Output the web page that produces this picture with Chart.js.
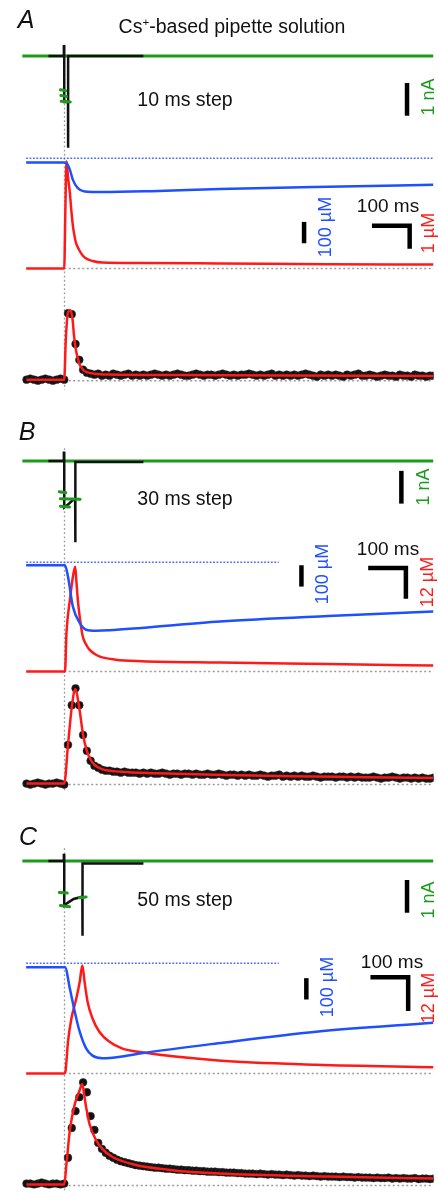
<!DOCTYPE html>
<html><head><meta charset="utf-8">
<script src="https://cdn.jsdelivr.net/npm/chart.js@4"></script>
<style>
html,body{margin:0;padding:0;background:#fff;}
#wrap{position:relative;width:438px;height:1193px;overflow:hidden;background:#fff;}
#c{position:absolute;left:0;top:0;}
.t{position:absolute;font-family:"Liberation Sans",Arial,Helvetica,sans-serif;line-height:1;white-space:nowrap;transform:translate(-50%,-50%);color:#111;}
.r{transform:translate(-50%,-50%) rotate(-90deg);}
.sup{font-size:0.6em;position:relative;top:-0.6em;}
.g{color:#1c9a1c}.b{color:#1f4fff}.rd{color:#ff1a1a}
</style></head><body>
<div id="wrap">
<canvas id="c" width="438" height="1193"></canvas>
<div class="t" style="left:26px;top:19px;font-size:25px;font-style:italic">A</div>
<div class="t" style="left:232px;top:27px;font-size:19.5px">Cs<span class="sup">+</span>-based pipette solution</div>
<div class="t" style="left:185px;top:100px;font-size:19.5px">10 ms step</div>
<div class="t r g" style="left:428px;top:97px;font-size:18px">1 nA</div>
<div class="t r b" style="left:325px;top:227px;font-size:18px">100 µM</div>
<div class="t" style="left:388px;top:205px;font-size:19px">100 ms</div>
<div class="t r rd" style="left:428px;top:233px;font-size:18px">1 µM</div>

<div class="t" style="left:27px;top:431px;font-size:25px;font-style:italic">B</div>
<div class="t" style="left:185px;top:499px;font-size:19.5px">30 ms step</div>
<div class="t r g" style="left:423px;top:487px;font-size:18px">1 nA</div>
<div class="t r b" style="left:322px;top:574px;font-size:18px">100 µM</div>
<div class="t" style="left:388px;top:548px;font-size:19px">100 ms</div>
<div class="t r rd" style="left:427px;top:582px;font-size:18px">12 µM</div>

<div class="t" style="left:28px;top:836px;font-size:25px;font-style:italic">C</div>
<div class="t" style="left:185px;top:900px;font-size:19.5px">50 ms step</div>
<div class="t r g" style="left:428px;top:900px;font-size:18px">1 nA</div>
<div class="t r b" style="left:327px;top:987px;font-size:18px">100 µM</div>
<div class="t" style="left:392px;top:961px;font-size:19px">100 ms</div>
<div class="t r rd" style="left:428px;top:998px;font-size:18px">12 µM</div>
</div>
<script>
// ================= DATA (time in ms, current in nA, concentrations in µM, fluorescence in ΔF/F0) =================
const panels = ['A', 'B', 'C'];
const stepDurations = [10, 30, 50];

// Green current baseline (recorded holding current)
const greenBaseTime = [-111, 979];
const greenBaseVal = [0, 0];

// Green current samples during the step (short strokes, null = gap)
const greenStepTimeA = [-10, 4, null, -9, 6, null, -8, 16];
const greenStepA = [-1.03, -1.06, null, -1.2, -1.23, null, -1.38, -1.4];
const greenStepTimeB = [-13, 4, null, -10, 42, null, -10, 14];
const greenStepB = [-0.94, -0.97, null, -1.15, -1.17, null, -1.38, -1.4];
const greenStepTimeC = [-13, 8, null, -10, 14, null, 40, 58];
const greenStepC = [-0.96, -0.98, null, -1.36, -1.4, null, -1.12, -1.1];

// Black current traces
const curTimeA = [-42, -1, -1, 0, 0, 10, 10, 10.6, 210];
const curA = [0, 0, 0.3, 0.3, -1.4, -1.4, -2.8, 0, 0];
const curTimeB = [-42, -1, -1, 0, 0, 10, 20, 29, 29, 30, 210];
const curB = [0, 0, 0.25, 0.25, -1.42, -1.33, -1.22, -1.15, -2.48, -0.03, -0.03];
const curTimeC = [-42, -1, -1, 0, 0, 10, 25, 48, 48, 49, 210];
const curC = [0, 0, 0.18, 0.18, -1.36, -1.27, -1.16, -1.09, -2.28, -0.08, -0.08];

// Blue concentration traces (µM); dotted reference level
const blueRefLevel = 1000;
const blueRefSpan = [[-101, 979], [-101, 569], [-101, 569]];
const blueTimeA = [-101, 0, 6, 15, 23, 36, 54, 101, 230, 413, 700, 979];
const blueA = [981, 981, 978, 946, 899, 860, 845, 842, 846, 856, 867, 876];
const blueTimeB = [-101, 2, 10, 23, 41, 58, 84, 120, 205, 413, 700, 979];
const blueB = [986, 986, 932, 792, 716, 684, 679, 681, 692, 722, 748, 769];
const blueTimeC = [-101, 2, 15, 28, 41, 58, 75, 101, 153, 205, 408, 668, 979];
const blueC = [981, 981, 880, 772, 679, 601, 567, 555, 563, 578, 625, 679, 721];

// Red concentration traces (µM)
const redTimeA = [-101, 0, 3, 6, 10, 15, 19, 23, 27, 31, 40, 49, 60, 75, 101, 200, 413, 700, 979];
const redA = [0, 0, 2.6, 4.7, 4.0, 3.3, 2.5, 1.87, 1.45, 1.13, 0.8, 0.57, 0.42, 0.33, 0.26, 0.24, 0.22, 0.19, 0.17];
const redTimeB = [-101, 0, 2, 6, 15, 23, 29, 32, 36, 41, 49, 58, 67, 80, 93, 136, 205, 413, 700, 979];
const redB = [0, 0, 0, 15.1, 27.9, 36.9, 40.8, 35.6, 28, 21.4, 13.7, 10.5, 8.5, 6.9, 5.9, 4.6, 4.0, 3.5, 2.9, 2.3];
const redTimeC = [-101, 0, 3, 10, 19, 32, 41, 48, 54, 62, 75, 93, 119, 153, 205, 408, 668, 979];
const redC = [0, 0, 0.5, 11.3, 19.5, 26.6, 32.5, 38.4, 32.5, 25.4, 19.5, 14.8, 11.3, 8.9, 7.5, 4.6, 3.1, 2.2];

// Fluorescence samples (black dots)
const fluoTime = [-100,-90,-80,-70,-60,-50,-40,-30,-20,-10,0,10,20,30,40,50,60,70,80,90,100,110,120,130,140,150,160,170,180,190,200,210,220,230,240,250,260,270,280,290,300,310,320,330,340,350,360,370,380,390,400,410,420,430,440,450,460,470,480,490,500,510,520,530,540,550,560,570,580,590,600,610,620,630,640,650,660,670,680,690,700,710,720,730,740,750,760,770,780,790,800,810,820,830,840,850,860,870,880,890,900,910,920,930,940,950,960,970,980];
const fluoA = [0.01,0.02,0.01,0.00,0.01,0.02,0.01,0.00,0.01,0.02,0.01,
  0.68,0.67,0.37,0.21,0.11,0.08,0.07,0.06,0.07,0.05,
  0.06,0.05,0.07,0.06,0.05,0.06,0.07,0.05,0.06,0.05,
  0.06,0.05,0.06,0.07,0.06,0.05,0.06,0.05,0.06,0.07,
  0.06,0.05,0.05,0.06,0.07,0.06,0.05,0.06,0.06,0.05,
  0.06,0.07,0.06,0.05,0.06,0.05,0.06,0.06,0.07,0.06,
  0.05,0.06,0.05,0.06,0.07,0.05,0.06,0.05,0.06,0.05,
  0.06,0.05,0.06,0.07,0.06,0.05,0.04,0.06,0.05,0.06,
  0.05,0.06,0.05,0.04,0.06,0.05,0.06,0.07,0.05,0.05,
  0.06,0.05,0.04,0.05,0.06,0.05,0.05,0.04,0.06,0.05,
  0.05,0.04,0.06,0.05,0.05,0.04,0.05,0.05];
const fluoB = [0.01,0.00,0.01,0.02,0.01,0.00,0.01,0.01,0.02,0.01,0.00,
  0.40,0.80,0.97,0.80,0.50,0.34,0.24,0.19,0.17,0.15,
  0.14,0.14,0.13,0.13,0.12,0.13,0.12,0.12,0.12,0.11,
  0.12,0.11,0.12,0.11,0.11,0.12,0.11,0.10,0.11,0.11,
  0.10,0.11,0.11,0.10,0.11,0.10,0.10,0.11,0.10,0.10,
  0.11,0.10,0.09,0.10,0.10,0.09,0.10,0.09,0.10,0.09,
  0.09,0.10,0.09,0.08,0.09,0.09,0.10,0.08,0.09,0.08,
  0.09,0.08,0.09,0.08,0.08,0.09,0.08,0.07,0.08,0.08,
  0.08,0.07,0.08,0.08,0.07,0.08,0.07,0.08,0.07,0.07,
  0.07,0.08,0.07,0.06,0.07,0.07,0.08,0.07,0.06,0.07,
  0.07,0.06,0.07,0.06,0.07,0.06,0.06,0.07];
const fluoC = [0.02,0.02,0.01,0.02,0.03,0.02,0.01,0.02,0.02,0.01,0.02,
  0.28,0.58,0.75,0.89,1.04,0.94,0.70,0.56,0.43,0.37,
  0.33,0.30,0.28,0.26,0.245,0.235,0.225,0.215,0.205,0.20,
  0.195,0.19,0.185,0.18,0.18,0.175,0.17,0.17,0.165,0.16,
  0.16,0.155,0.155,0.15,0.15,0.145,0.145,0.14,0.14,0.14,
  0.135,0.135,0.13,0.13,0.13,0.125,0.125,0.12,0.12,0.12,
  0.115,0.12,0.115,0.11,0.115,0.11,0.11,0.105,0.11,0.105,
  0.10,0.105,0.10,0.10,0.095,0.10,0.095,0.09,0.095,0.09,
  0.09,0.09,0.085,0.09,0.085,0.085,0.08,0.085,0.08,0.08,
  0.08,0.075,0.08,0.075,0.075,0.08,0.07,0.075,0.07,0.075,
  0.07,0.07,0.075,0.065,0.07,0.07,0.065,0.07];

// Model fits to fluorescence (red lines)
const fitTimeA = [-100, 0, 4, 10, 16, 22, 26, 30, 35, 40, 50, 60, 80, 120, 300, 600, 980];
const fitA = [0.01, 0.01, 0.40, 0.69, 0.71, 0.62, 0.45, 0.33, 0.24, 0.17, 0.11, 0.085, 0.07, 0.062, 0.057, 0.052, 0.047];
const fitTimeB = [-100, 0, 10, 20, 29, 40, 50, 60, 70, 80, 100, 150, 250, 400, 600, 800, 980];
const fitB = [0.01, 0.01, 0.40, 0.78, 0.96, 0.77, 0.50, 0.34, 0.25, 0.20, 0.155, 0.13, 0.115, 0.10, 0.085, 0.075, 0.065];
const fitTimeC = [-100, 0, 6, 15, 28, 41, 47, 58, 67, 84, 101, 127, 187, 275, 413, 700, 980];
const fitC = [0.01, 0.01, 0.22, 0.56, 0.82, 0.96, 1.02, 0.79, 0.62, 0.46, 0.37, 0.29, 0.21, 0.16, 0.12, 0.09, 0.07];

// Scale bar sizes
const scaleBarCurrent = 1;      // nA
const scaleBarBlue = 100;       // µM
const scaleBarTime = 100;       // ms
const scaleBarRed = [1, 12, 12]; // µM

// ================= LAYOUT =================
const H = 1193;
const X_MIN = -158.4, X_MAX = 979.2;
const LAYOUT = {
  A: {cur: {px: 52, ppu: 33}, blue: {px: 155, ppu: 0.215}, red: {px: 266, ppu: 23}, flu: {px: 379, ppu: 100},
      onset: {top: 0.35, bottom: -0.09},
      bars: {nA: {t: 909, from: -0.82}, uM: {t: 636, from: 702}, L: {t1: 916, top: 1.87}}},
  B: {cur: {px: 460, ppu: 33}, blue: {px: 562, ppu: 0.215}, red: {px: 672, ppu: 31 / 12}, flu: {px: 786, ppu: 100},
      onset: {top: 0.39, bottom: -0.06},
      bars: {nA: {t: 894, from: -0.30}, uM: {t: 629, from: 986}, L: {t1: 906, top: 40.3}}},
  C: {cur: {px: 863, ppu: 33}, blue: {px: 966, ppu: 0.215}, red: {px: 1077, ppu: 34 / 12}, flu: {px: 1190, ppu: 100},
      onset: {top: 0.39, bottom: -0.05},
      bars: {nA: {t: 909, from: -0.58}, uM: {t: 642, from: 930}, L: {t1: 912, top: 34.2}}}
};
const COL = {green: '#1c9a1c', blue: '#1f4fff', blueDot: '#4a6dff', red: '#ff1a1a', black: '#111111', grey: '#9a9a9a'};

function rng(base, o) {
  const max = base + o.px / o.ppu;
  return {type: 'linear', axis: 'y', position: 'left', display: false, min: max - H / o.ppu, max: max};
}
function xy(ts, vs) { return ts.map((t, i) => ({x: t === null ? NaN : t, y: vs[i]})); }
function ln(data, axis, color, width, order, extra) {
  return Object.assign({data: data, xAxisID: 'x', yAxisID: axis, borderColor: color, backgroundColor: color,
    borderWidth: width, pointRadius: 0, fill: false, tension: 0, spanGaps: false, order: order}, extra || {});
}

const SERIES = {
  A: {gs: [greenStepTimeA, greenStepA], cur: [curTimeA, curA], blue: [blueTimeA, blueA], red: [redTimeA, redA], flu: fluoA, fit: [fitTimeA, fitA]},
  B: {gs: [greenStepTimeB, greenStepB], cur: [curTimeB, curB], blue: [blueTimeB, blueB], red: [redTimeB, redB], flu: fluoB, fit: [fitTimeB, fitB]},
  C: {gs: [greenStepTimeC, greenStepC], cur: [curTimeC, curC], blue: [blueTimeC, blueC], red: [redTimeC, redC], flu: fluoC, fit: [fitTimeC, fitC]}
};

const scales = {x: {type: 'linear', axis: 'x', position: 'bottom', display: false, min: X_MIN, max: X_MAX}};
const datasets = [];
panels.forEach((p, i) => {
  const L = LAYOUT[p], S = SERIES[p];
  const ax = {cur: 'yCur' + p, blue: 'yBlue' + p, red: 'yCa' + p, flu: 'yFlu' + p};
  scales[ax.cur] = rng(0, L.cur);
  scales[ax.blue] = rng(blueRefLevel, L.blue);
  scales[ax.red] = rng(0, L.red);
  scales[ax.flu] = rng(0, L.flu);
  const dotted = {borderDash: [2, 2.5]};
  datasets.push(ln(xy([0, X_MAX], [0, 0]), ax.red, COL.grey, 1.5, 30, dotted));
  datasets.push(ln(xy([0, X_MAX], [0, 0]), ax.flu, COL.grey, 1.5, 30, dotted));
  datasets.push(ln(xy(blueRefSpan[i], [blueRefLevel, blueRefLevel]), ax.blue, COL.blueDot, 1.5, 29, {borderDash: [1.8, 1.6]}));
  datasets.push(ln(xy(greenBaseTime, greenBaseVal), ax.cur, COL.green, 3, 20));
  datasets.push(ln(xy(S.cur[0], S.cur[1]), ax.cur, COL.black, 2.5, 18));
  datasets.push(ln(xy(S.gs[0], S.gs[1]), ax.cur, COL.green, 3, 17, {borderCapStyle: 'round'}));
  datasets.push(ln(xy(S.red[0], S.red[1]), ax.red, COL.red, 2.5, 12, {cubicInterpolationMode: 'monotone'}));
  datasets.push(ln(xy(S.blue[0], S.blue[1]), ax.blue, COL.blue, 2.5, 11, {cubicInterpolationMode: 'monotone'}));
  datasets.push(ln(xy(fluoTime, S.flu), ax.flu, COL.black, 0, 8,
    {showLine: false, pointRadius: 3.9, pointBackgroundColor: '#111', pointBorderColor: '#333', pointBorderWidth: 0.5}));
  datasets.push(ln(xy(S.fit[0], S.fit[1]), ax.flu, COL.red, 2.5, 6, {cubicInterpolationMode: 'monotone'}));
});

const annotations = {
  id: 'annotations',
  beforeDatasetsDraw(chart) {
    const ctx = chart.ctx, xs = chart.scales.x;
    ctx.save();
    ctx.strokeStyle = COL.grey; ctx.lineWidth = 1.3; ctx.setLineDash([1.8, 2.4]);
    panels.forEach(p => {
      const o = LAYOUT[p].onset;
      const x = Math.round(xs.getPixelForValue(0)) + 0.5;
      ctx.beginPath();
      ctx.moveTo(x, chart.scales['yCur' + p].getPixelForValue(o.top));
      ctx.lineTo(x, chart.scales['yFlu' + p].getPixelForValue(o.bottom));
      ctx.stroke();
    });
    ctx.restore();
  },
  afterDatasetsDraw(chart) {
    const ctx = chart.ctx, xs = chart.scales.x;
    ctx.save();
    ctx.strokeStyle = '#000'; ctx.lineWidth = 4.5; ctx.lineCap = 'butt'; ctx.lineJoin = 'miter'; ctx.setLineDash([]);
    panels.forEach((p, i) => {
      const B = LAYOUT[p].bars;
      const yc = chart.scales['yCur' + p], yb = chart.scales['yBlue' + p], yr = chart.scales['yCa' + p];
      ctx.beginPath();
      ctx.moveTo(xs.getPixelForValue(B.nA.t), yc.getPixelForValue(B.nA.from));
      ctx.lineTo(xs.getPixelForValue(B.nA.t), yc.getPixelForValue(B.nA.from - scaleBarCurrent));
      ctx.stroke();
      ctx.beginPath();
      ctx.moveTo(xs.getPixelForValue(B.uM.t), yb.getPixelForValue(B.uM.from));
      ctx.lineTo(xs.getPixelForValue(B.uM.t), yb.getPixelForValue(B.uM.from - scaleBarBlue));
      ctx.stroke();
      ctx.beginPath();
      ctx.moveTo(xs.getPixelForValue(B.L.t1 - scaleBarTime), yr.getPixelForValue(B.L.top));
      ctx.lineTo(xs.getPixelForValue(B.L.t1), yr.getPixelForValue(B.L.top));
      ctx.lineTo(xs.getPixelForValue(B.L.t1), yr.getPixelForValue(B.L.top - scaleBarRed[i]));
      ctx.stroke();
    });
    ctx.restore();
  }
};

new Chart(document.getElementById('c'), {
  type: 'line',
  data: {datasets: datasets},
  options: {
    responsive: false, animation: false, devicePixelRatio: 1,
    layout: {padding: 0},
    plugins: {legend: {display: false}, tooltip: {enabled: false}, title: {display: false}},
    events: [],
    scales: scales
  },
  plugins: [annotations]
});
</script>
</body></html>
